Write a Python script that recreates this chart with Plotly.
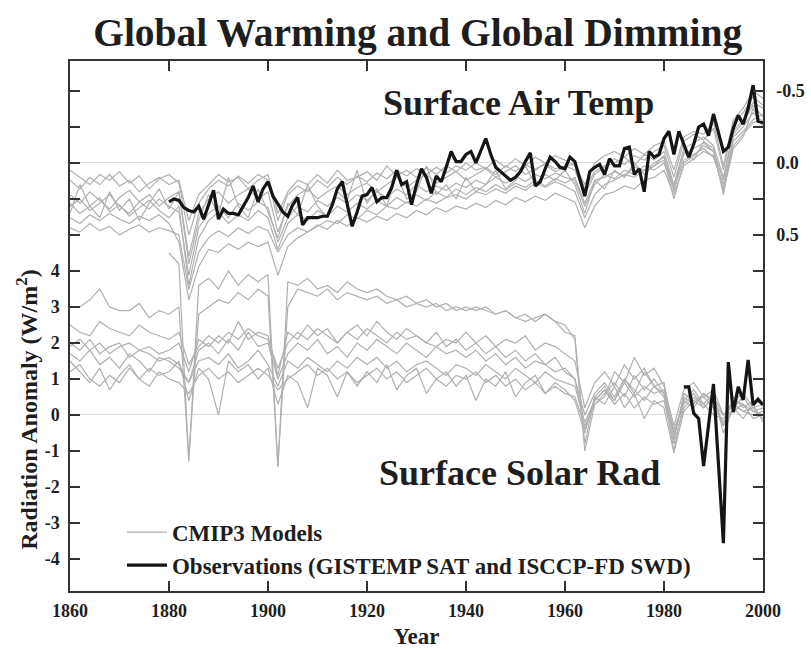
import plotly.graph_objects as go

# ---------------- data ----------------
obs_temp_years = list(range(1880, 2001))
obs_temp = [0.27, 0.25, 0.26, 0.31, 0.33, 0.34, 0.30, 0.39, 0.29, 0.19,
            0.39, 0.32, 0.35, 0.35, 0.36, 0.30, 0.24, 0.16, 0.27, 0.18,
            0.13, 0.23, 0.29, 0.34, 0.37, 0.29, 0.24, 0.43, 0.38, 0.38,
            0.38, 0.37, 0.37, 0.29, 0.18, 0.13, 0.29, 0.44, 0.34, 0.23,
            0.22, 0.17, 0.27, 0.24, 0.24, 0.17, 0.05, 0.15, 0.13, 0.29,
            0.15, 0.04, 0.10, 0.21, 0.09, 0.13, 0.03, -0.08, -0.01, -0.01,
            -0.06, -0.08, 0.00, -0.08, -0.17, -0.06, 0.03, 0.06, 0.09, 0.12,
            0.10, 0.06, -0.01, -0.07, 0.16, 0.13, 0.04, -0.04, -0.01, 0.03,
            0.04, -0.04, -0.01, 0.11, 0.23, 0.06, 0.03, 0.01, 0.08, -0.03,
            0.02, 0.02, -0.10, -0.11, 0.08, 0.04, 0.20, -0.08, -0.04, -0.06,
            -0.17, -0.22, -0.06, -0.22, -0.13, -0.04, -0.13, -0.25, -0.27, -0.19,
            -0.34, -0.20, -0.08, -0.11, -0.24, -0.33, -0.27, -0.38, -0.54, -0.29,
            -0.28]

obs_rad_years = list(range(1984, 2001))
obs_rad = [0.78, 0.78, 0.05, -0.10, -1.42, -0.28, 0.86, -1.35, -3.56, 1.47,
           0.08, 0.78, 0.42, 1.53, 0.28, 0.44, 0.28]

model_years = list(range(1860, 2001, 2))

temp_models = [
    [0.12, 0.18, 0.10, 0.15, 0.08, 0.16, 0.12, 0.20, 0.14, 0.10,
     0.15, 0.12, 0.40, 0.22, 0.15, 0.08, 0.13, 0.10, 0.18, 0.12,
     0.08, 0.35, 0.20, 0.12, 0.15, 0.08, 0.14, 0.05, 0.12, 0.10,
     0.06, 0.12, 0.02, 0.09, 0.05, 0.10, 0.03, 0.08, 0.02, 0.06,
     0.00, 0.05, 0.03, 0.08, 0.02, 0.06, 0.01, 0.05, 0.00, 0.04,
     0.02, 0.05, 0.22, 0.08, 0.03, 0.00, -0.04, 0.02, -0.06, -0.02,
     -0.08, 0.15, -0.10, -0.14, -0.18, -0.12, 0.10, -0.22, -0.30, -0.42,
     -0.38],
    [0.30, 0.25, 0.33, 0.28, 0.22, 0.30, 0.35, 0.27, 0.32, 0.25,
     0.30, 0.34, 0.78, 0.45, 0.35, 0.30, 0.38, 0.28, 0.33, 0.27,
     0.31, 0.55, 0.38, 0.30, 0.34, 0.26, 0.30, 0.24, 0.28, 0.22,
     0.26, 0.20, 0.24, 0.18, 0.22, 0.15, 0.20, 0.16, 0.19, 0.14,
     0.17, 0.12, 0.15, 0.10, 0.14, 0.09, 0.13, 0.08, 0.11, 0.07,
     0.10, 0.12, 0.30, 0.15, 0.08, 0.11, 0.05, 0.08, 0.02, 0.05,
     0.00, 0.18, -0.02, -0.06, -0.10, -0.04, 0.15, -0.15, -0.22, -0.30,
     -0.34],
    [0.45, 0.48, 0.42, 0.47, 0.44, 0.50, 0.46, 0.43, 0.48, 0.45,
     0.47, 0.50, 0.88, 0.62, 0.52, 0.47, 0.51, 0.45, 0.49, 0.44,
     0.47, 0.62, 0.50, 0.45, 0.48, 0.43, 0.46, 0.40, 0.44, 0.38,
     0.41, 0.37, 0.40, 0.35, 0.38, 0.33, 0.36, 0.31, 0.34, 0.30,
     0.32, 0.28, 0.31, 0.26, 0.29, 0.24, 0.27, 0.23, 0.26, 0.21,
     0.24, 0.27, 0.45, 0.30, 0.22, 0.20, 0.16, 0.18, 0.12, 0.10,
     0.05, 0.22, 0.02, -0.03, -0.08, -0.05, 0.18, -0.12, -0.20, -0.28,
     -0.30],
    [0.22, 0.28, 0.20, 0.26, 0.32, 0.24, 0.19, 0.27, 0.22, 0.30,
     0.24, 0.20, 0.65, 0.35, 0.25, 0.20, 0.28, 0.22, 0.18, 0.25,
     0.20, 0.48, 0.30, 0.22, 0.18, 0.25, 0.20, 0.16, 0.22, 0.17,
     0.14, 0.20, 0.15, 0.10, 0.17, 0.12, 0.08, 0.14, 0.10, 0.06,
     0.12, 0.08, 0.04, 0.10, 0.06, 0.02, 0.08, 0.04, 0.01, 0.06,
     0.03, 0.00, 0.18, 0.06, 0.02, -0.03, 0.01, -0.05, -0.02, -0.08,
     -0.12, 0.10, -0.15, -0.20, -0.16, -0.24, 0.05, -0.28, -0.35, -0.46,
     -0.40],
    [0.35, 0.15, 0.30, 0.38, 0.20, 0.33, 0.25, 0.40, 0.28, 0.18,
     0.32, 0.20, 0.70, 0.40, 0.22, 0.36, 0.10, 0.30, 0.38, 0.18,
     0.34, 0.52, 0.28, 0.36, 0.15, 0.30, 0.38, 0.20, 0.26, 0.05,
     0.28, 0.18, 0.30, 0.08, 0.25, 0.20, 0.02, 0.22, 0.15, 0.25,
     0.10, 0.20, 0.15, 0.05, 0.18, 0.12, 0.02, 0.15, 0.08, 0.12,
     0.05, 0.15, 0.35, 0.12, 0.18, 0.05, 0.10, 0.00, 0.08, 0.02,
     -0.05, 0.20, -0.08, -0.02, -0.15, -0.10, 0.22, -0.18, -0.25, -0.35,
     -0.28],
    [0.38, 0.42, 0.36, 0.40, 0.35, 0.39, 0.42, 0.37, 0.40, 0.36,
     0.42, 0.55, 0.95, 0.72, 0.60, 0.62, 0.56, 0.60, 0.55, 0.58,
     0.55, 0.78, 0.58, 0.52, 0.48, 0.44, 0.40, 0.42, 0.36, 0.39,
     0.33, 0.36, 0.30, 0.32, 0.27, 0.30, 0.25, 0.28, 0.24, 0.22,
     0.25, 0.20, 0.22, 0.18, 0.21, 0.16, 0.19, 0.14, 0.17, 0.13,
     0.16, 0.20, 0.38, 0.22, 0.15, 0.12, 0.08, 0.10, 0.05, 0.02,
     -0.02, 0.25, 0.00, -0.05, -0.12, -0.08, 0.20, -0.10, -0.18, -0.38,
     -0.25],
    [0.05, 0.10, 0.15, 0.08, 0.12, 0.06, 0.14, 0.09, 0.18, 0.11,
     0.08, 0.14, 0.50, 0.28, 0.18, 0.12, 0.16, 0.09, 0.14, 0.08,
     0.12, 0.40, 0.22, 0.16, 0.20, 0.12, 0.17, 0.10, 0.15, 0.09,
     0.13, 0.07, 0.11, 0.05, 0.09, 0.04, 0.08, 0.03, 0.07, 0.02,
     0.05, 0.00, 0.04, -0.02, 0.03, -0.03, 0.02, -0.04, 0.00, -0.05,
     -0.02, 0.02, 0.15, 0.00, -0.05, -0.08, -0.04, -0.10, -0.06, -0.12,
     -0.15, 0.05, -0.18, -0.22, -0.20, -0.28, 0.02, -0.30, -0.38, -0.50,
     -0.45],
    [0.28, 0.35, 0.30, 0.24, 0.34, 0.29, 0.37, 0.31, 0.26, 0.33,
     0.38, 0.30, 0.85, 0.52, 0.40, 0.34, 0.42, 0.36, 0.40, 0.33,
     0.38, 0.60, 0.42, 0.36, 0.40, 0.33, 0.37, 0.30, 0.34, 0.28,
     0.32, 0.26, 0.30, 0.24, 0.28, 0.22, 0.26, 0.20, 0.24, 0.18,
     0.22, 0.17, 0.20, 0.15, 0.19, 0.14, 0.17, 0.12, 0.16, 0.11,
     0.14, 0.10, 0.28, 0.12, 0.10, 0.06, 0.09, 0.03, 0.05, 0.00,
     -0.04, 0.16, -0.06, -0.10, -0.14, -0.08, 0.12, -0.20, -0.28, -0.40,
     -0.32],
]

rad_models = [
    [3.0, 3.0, 3.2, 3.5, 3.0, 2.9, 2.9, 3.1, 2.7, 2.9,
     2.8, 3.0, -1.2, 2.8, 3.0, 3.2, 3.1, 3.4, 3.2, 3.5,
     3.3, -1.4, 3.0, 3.5, 3.4, 3.3, 3.5, 3.2, 3.4, 3.3,
     3.2, 3.3, 3.1, 3.2, 3.0, 3.1, 3.0, 3.1, 2.9, 3.0,
     2.9, 3.0, 2.9, 2.8, 2.9, 2.7, 2.8, 2.6, 2.8, 2.6,
     2.3, 2.2, -0.8, 0.5, 0.8, 0.4, 1.0, 0.6, 1.2, 0.8,
     0.9, -0.6, 0.5, 0.3, 0.6, 0.4, -0.3, 0.5, 0.2, 0.4,
     0.3],
    [None, None, None, None, None, None, None, None, None, None,
     4.5, 4.2, -1.3, 3.6, 3.8, 3.5, 4.0, 3.6, 3.9, 3.7,
     3.9, -1.45, 3.7, 3.6, 3.8, 3.5, 3.6, 3.4, 3.7, 3.5,
     3.4, 3.5, 3.3, 3.2, 3.3, 3.1, 3.2, 3.0, 3.1, 2.9,
     3.0, 2.9, 3.0, 2.8, 2.9, 2.7, 2.6, 2.7, 2.8, 2.6,
     2.5, 2.1, -1.0, 0.3, 0.6, 0.9, 0.5, 1.1, 0.7, 1.0,
     0.6, -1.0, 0.4, 0.7, 0.3, 0.6, -0.5, 0.2, 0.5, 0.1,
     0.2],
    [2.5, 2.3, 2.2, 2.6, 2.4, 2.3, 2.2, 2.5, 2.3, 2.2,
     2.1, 2.3, 1.4, 1.9, 2.2, 2.0, 2.3, 2.1, 2.4, 2.2,
     2.1, 1.3, 2.0, 2.3, 2.1, 2.4, 2.2, 2.0, 2.3, 2.1,
     2.4, 2.2, 2.0, 2.3, 2.1, 2.2, 2.0, 1.9, 2.1, 2.0,
     2.3, 2.0, 2.2, 1.9, 2.1, 2.0, 2.2, 1.8, 2.0, 1.9,
     1.7, 1.5, 0.2, 0.9, 1.2, 0.8, 1.4, 1.0, 1.3, 0.8,
     0.6, -0.7, 0.6, 0.4, 0.5, 0.2, -0.2, 0.4, 0.3, 0.1,
     0.0],
    [2.0, 1.8, 2.1, 1.7, 1.9, 2.0, 1.6, 1.8, 1.7, 1.5,
     1.6, 1.4, 0.9, 1.8, 2.0, 1.7, 2.1, 1.8, 2.3, 1.9,
     2.0, 1.0, 1.7, 2.0, 1.8, 2.1, 1.7, 1.9, 1.6, 2.0,
     1.8, 2.1, 1.9, 1.7, 2.0, 1.8, 1.6, 1.9, 1.7, 1.8,
     1.6, 1.8, 1.5, 1.7, 1.4, 1.6, 1.3, 1.5, 1.4, 1.2,
     1.3, 1.0, 0.0, 0.6, 0.9, 0.5, 1.0, 0.7, 0.4, 0.8,
     0.5, -0.4, 0.3, 0.6, 0.2, 0.5, 0.0, 0.3, 0.1, 0.2,
     -0.1],
    [1.7, 1.5, 1.8, 1.4, 1.6, 1.3, 1.7, 1.5, 1.2, 1.6,
     1.5, 1.3, 0.9, 1.5, 1.6, 1.4, 1.7, 1.3, 1.5, 1.8,
     1.4, 0.8, 1.5, 1.3, 1.6, 1.4, 1.2, 1.5, 1.3, 1.6,
     1.4, 1.6, 1.3, 1.5, 1.2, 1.4, 1.5, 1.3, 1.1, 1.4,
     1.3, 1.1, 1.4, 1.2, 1.0, 1.3, 1.1, 0.9, 1.2, 1.0,
     0.9, 0.8, -0.2, 0.4, 0.7, 0.3, 0.6, 0.2, 0.5, 0.3,
     0.4, -0.8, 0.2, 0.5, 0.3, 0.0, -0.1, 0.3, 0.1, 0.0,
     0.1],
    [1.5, 1.2, 0.9, 1.3, 0.7, 1.1, 1.4, 1.0, 1.3, 1.1,
     1.2, 1.5, 0.4, 1.3, 1.0, 0.0, 1.5, 1.2, 1.4, 1.0,
     1.3, 0.3, 1.1, 0.9, 0.2, 1.3, 1.1, 0.5, 1.2, 0.8,
     1.2, 0.9, 1.4, 0.7, 1.1, 1.3, 0.6, 1.0, 1.2, 0.8,
     1.1, 0.4, 1.0, 0.8, 1.2, 0.5, 0.9, 1.1, 0.6, 0.9,
     0.7, 0.4, -0.5, 0.5, 0.3, 0.8, 0.2, 0.6, -0.1, 0.4,
     0.2, -1.05, 0.1, 0.4, 0.2, 0.5, -0.3, 0.2, -0.1, 0.3,
     -0.2],
    [1.2, 1.4, 1.0, 0.8, 1.1, 0.9, 1.3, 1.0, 0.8, 1.2,
     1.0, 0.9, 0.6, 1.1, 1.3, 1.0, 1.2, 0.9, 1.1, 1.3,
     1.1, 0.7, 1.0, 1.2, 1.4, 1.1, 1.3, 1.0, 1.2, 0.9,
     1.1, 1.3, 1.0, 1.2, 0.9, 1.1, 1.3, 1.0, 0.8, 1.1,
     1.0, 1.2, 0.9, 1.1, 0.8, 1.0, 0.7, 0.9, 0.6, 0.8,
     0.6, 0.5, -0.3, 0.3, 0.5, 1.2, 0.9, 1.6, 1.1, 1.3,
     0.8, -0.3, 0.7, 0.9, 0.5, 0.7, 0.0, 0.4, 0.6, 0.2,
     0.3],
    [1.9, 2.1, 1.8, 2.0, 1.7, 1.9, 2.0, 1.8, 1.9, 1.7,
     1.8, 2.0, 1.2, 2.1, 1.9, 2.2, 2.0, 2.6, 2.1, 2.3,
     2.2, 1.1, 2.3, 2.1, 2.5, 2.2, 2.4, 2.0, 2.3, 2.5,
     2.2, 2.6, 2.3, 2.1, 2.4, 2.2, 2.0, 2.3, 1.9, 2.1,
     1.8, 2.0, 1.7, 1.9, 1.6, 1.8, 1.5, 1.7, 1.4, 1.6,
     1.2, 1.0, -0.4, 0.4, 0.7, 0.4, 0.9, 0.5, 0.8, 0.6,
     0.7, -0.5, 0.4, 0.2, 0.6, 0.3, 0.0, 0.1, 0.3, -0.1,
     0.0],
]

x_ticks = [1860, 1880, 1900, 1920, 1940, 1960, 1980, 2000]
rad_tickvals = [-4, -3, -2, -1, 0, 1, 2, 3, 4, 5, 6, 7, 8, 9]
rad_ticktext = ["-4", "-3", "-2", "-1", "0", "1", "2", "3", "4", "", "", "", "", ""]
temp_tickvals = [-0.5, -0.25, 0.0, 0.25, 0.5, 0.75, 1.0, 1.25, 1.5, 1.75,
                 2.0, 2.25, 2.5, 2.75]
temp_ticktext = ["-0.5", "", "0.0", "", "0.5", "", "", "", "", "", "", "", "", ""]

# ---------------- figure ----------------
SERIF = "Liberation Serif, Times New Roman, serif"
GRAY = "#b0b0b0"
BLACK = "#151515"
AX = "#333333"
TXT = "#1e1e1e"

fig = go.Figure()

first = True
for tm in temp_models:
    fig.add_trace(go.Scatter(x=model_years, y=tm, yaxis="y2", mode="lines",
                             line=dict(color=GRAY, width=1.2),
                             name="CMIP3 Models", legendgroup="m",
                             showlegend=first, hoverinfo="skip"))
    first = False
for rm in rad_models:
    fig.add_trace(go.Scatter(x=model_years, y=rm, mode="lines",
                             line=dict(color=GRAY, width=1.2),
                             name="CMIP3 Models", legendgroup="m",
                             showlegend=False, hoverinfo="skip"))

fig.add_trace(go.Scatter(x=obs_temp_years, y=obs_temp, yaxis="y2", mode="lines",
                         line=dict(color=BLACK, width=3.2),
                         name="Observations (GISTEMP SAT and ISCCP-FD SWD)",
                         legendgroup="o", showlegend=True))
fig.add_trace(go.Scatter(x=obs_rad_years, y=obs_rad, mode="lines",
                         line=dict(color=BLACK, width=3.2),
                         name="Observations (GISTEMP SAT and ISCCP-FD SWD)",
                         legendgroup="o", showlegend=False))

tickfont = dict(family=SERIF, size=18, color=TXT, weight="bold")

fig.update_layout(
    width=811, height=649,
    margin=dict(l=70, r=48, t=61, b=58, autoexpand=False),
    paper_bgcolor="white", plot_bgcolor="white",
    title=dict(text="Global Warming and Global Dimming",
               font=dict(family=SERIF, size=39.5, color=TXT, weight="bold"),
               x=0.515, xanchor="center", y=0.951, yanchor="middle",
               xref="container", yref="container"),
    xaxis=dict(range=[1860, 2000], tickvals=x_ticks, ticks="inside", ticklen=10,
               tickwidth=1.5, tickcolor=AX, showline=True, linecolor=AX, linewidth=1.5,
               mirror="ticks", showgrid=False, zeroline=False, tickfont=tickfont,
               automargin=False, ticklabelstandoff=3,
               title=dict(text="Year", font=dict(family=SERIF, size=23, color=TXT,
                                                 weight="bold"), standoff=9)),
    yaxis=dict(range=[-4.889, 9.833], tickvals=rad_tickvals, ticktext=rad_ticktext,
               ticks="inside", ticklen=10, tickwidth=1.5, tickcolor=AX,
               showline=True, linecolor=AX, linewidth=1.5, showgrid=False,
               zeroline=True, zerolinecolor="#dcdcdc", zerolinewidth=1,
               tickfont=tickfont, ticklabelstandoff=5, automargin=False),
    yaxis2=dict(range=[2.972, -0.708], overlaying="y", side="right",
                tickvals=temp_tickvals, ticktext=temp_ticktext,
                ticks="inside", ticklen=10, tickwidth=1.5, tickcolor=AX,
                showline=True, linecolor=AX, linewidth=1.5, showgrid=False,
                zeroline=True, zerolinecolor="#dcdcdc", zerolinewidth=1,
                tickfont=tickfont, ticklabelstandoff=8, automargin=False),
    legend=dict(x=0.075, y=0.008, xanchor="left", yanchor="bottom",
                bgcolor="rgba(0,0,0,0)", font=dict(family=SERIF, size=23, color=TXT,
                                                  weight="bold"),
                tracegroupgap=0, itemwidth=40),
    showlegend=True,
    annotations=[
        dict(text="Radiation Anomaly (W/m<sup>2</sup>)", textangle=-90,
             xref="paper", yref="paper", x=-0.062, y=0.342, showarrow=False,
             xanchor="center", yanchor="middle",
             font=dict(family=SERIF, size=24, color=TXT, weight="bold")),
        dict(text="Surface Air Temp", xref="paper", yref="paper", x=0.6465, y=0.921,
             showarrow=False, xanchor="center", yanchor="middle",
             font=dict(family=SERIF, size=36, color=TXT, weight="bold")),
        dict(text="Surface Solar Rad", xref="paper", yref="paper", x=0.649, y=0.223,
             showarrow=False, xanchor="center", yanchor="middle",
             font=dict(family=SERIF, size=36, color=TXT, weight="bold")),
    ],
)

fig.write_html("out.html", config={"displayModeBar": False},
               post_script="document.body.style.margin='0px';")
